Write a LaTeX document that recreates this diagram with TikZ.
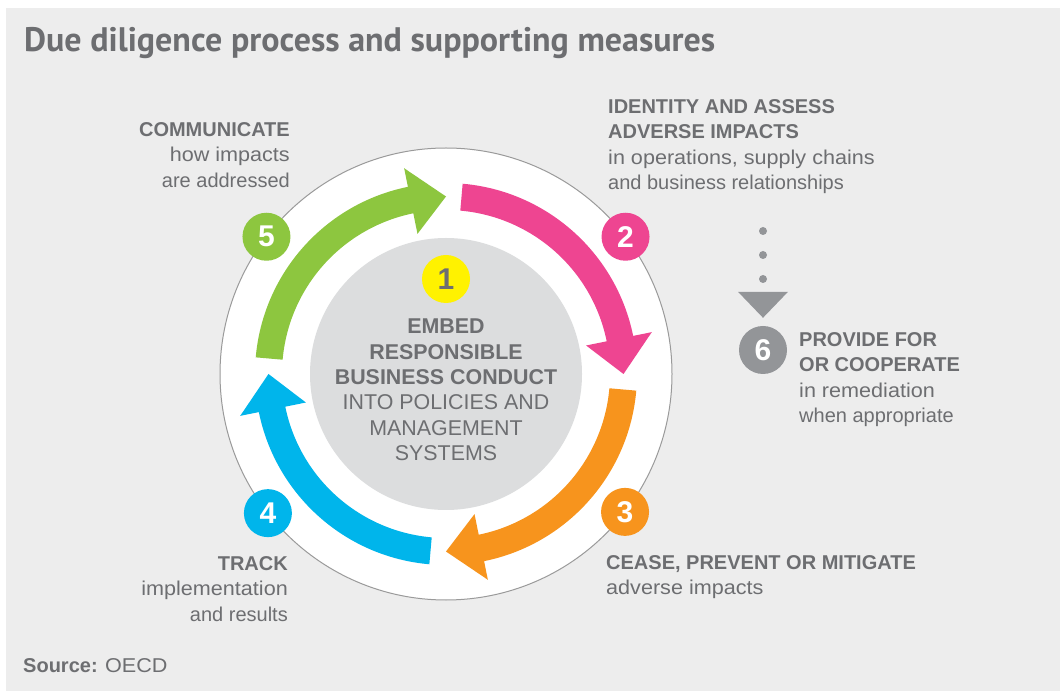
\documentclass[tikz,border=0pt]{standalone}
\usepackage{fontspec}
\setmainfont{Liberation Sans}
\newfontfamily\titlefont{PT Sans}
\newfontfamily\descfont{Liberation Sans}[FakeStretch=1.08]
\usetikzlibrary{positioning}

\definecolor{txtgray}{HTML}{6D6E71}
\definecolor{panelgray}{HTML}{EDEDED}
\definecolor{diskgray}{HTML}{DCDDDE}
\definecolor{ringline}{HTML}{9A9A9A}
\definecolor{stepmagenta}{HTML}{EE4591}
\definecolor{steporange}{HTML}{F7941D}
\definecolor{stepblue}{HTML}{00B5EB}
\definecolor{stepgreen}{HTML}{8DC63F}
\definecolor{stepyellow}{HTML}{FFF200}
\definecolor{stepgray}{HTML}{939598}

\begin{document}
\begin{tikzpicture}[x=1pt,y=1pt,
  badge/.style={circle,fill=#1,minimum size=48pt,inner sep=0,text=white,
    font=\fontsize{30}{30}\selectfont\bfseries},
  lbl/.style={inner sep=0,text=txtgray,font=\fontsize{20}{25.5}\selectfont},
  dotline/.style={stepgray,line width=8pt,line cap=round,dash pattern=on 0pt off 24pt}]
\useasboundingbox (0,0) rectangle (1060,691);
\fill[panelgray] (6,0) rectangle (1060,683);

\node[lbl,anchor=base west,font=\titlefont\fontsize{34}{34}\selectfont\bfseries] (title) at (24,639)
  {Due diligence process and supporting measures};

\begin{scope}[shift={(446,317)}]
  \filldraw[fill=white,draw=ringline,line width=1pt] (0,0) circle[radius=226];
  \fill[diskgray] (0,0) circle[radius=136];
  % the four cycle arrows
  \foreach \t/\c in {85/stepmagenta,-5/steporange,-95/stepblue,175/stepgreen}{
    \pgfmathsetmacro\p{\t-85}
    \pgfmathsetmacro\b{\t-73.5}
    \fill[\c] (\t:191) arc[start angle=\t,end angle=\b,radius=191]
      -- (\b:210) -- (\p:177.5) -- (\b:143) -- (\b:164)
      arc[start angle=\b,end angle=\t,radius=164] -- cycle;
  }
  \node[badge=stepyellow,text=txtgray] (n1) at (0,95) {1};
  \node[badge=stepmagenta] (n2) at (37.4:226) {2};
  \node[badge=steporange] (n3) at (-37.6:226) {3};
  \node[badge=stepblue] (n4) at (-142:226) {4};
  \node[badge=stepgreen] (n5) at (142.6:226) {5};
  \node[lbl,align=center,font=\fontsize{21.4}{25.4}\selectfont] (embed) at (0,-16)
    {\textbf{EMBED}\\\textbf{RESPONSIBLE}\\\textbf{BUSINESS CONDUCT}\\INTO POLICIES AND\\MANAGEMENT\\SYSTEMS};
\end{scope}

\node[lbl,align=left,anchor=north west] (identify) at (608,592)
  {\textbf{IDENTITY AND ASSESS}\\\textbf{ADVERSE IMPACTS}\\\descfont in operations, supply chains\\and business relationships};
\node[lbl,align=left,anchor=north west] (cease) at (606,136)
  {\textbf{CEASE, PREVENT OR MITIGATE}\\\descfont adverse impacts};
\node[lbl,align=right,anchor=north east] (track) at (288,135)
  {\textbf{TRACK}\\\descfont implementation\\and results};
\node[lbl,align=right,anchor=north east] (communicate) at (290,569)
  {\textbf{COMMUNICATE}\\\descfont how impacts\\are addressed};

% remediation step
\node[badge=stepgray] (n6) at (763,341) {6};
\coordinate (dtop) at (763,460);
\draw[dotline] (dtop) -- ++(0,-48);
\fill[stepgray] ([yshift=8pt]n6.north) -- ++(-25,26) -- ++(50,0) -- cycle;
\node[lbl,align=left,anchor=north west] (provide) at (799,359)
  {\textbf{PROVIDE FOR}\\\textbf{OR COOPERATE}\\\descfont in remediation\\when appropriate};

\node[lbl,anchor=base west] (source) at (23,19) {\textbf{Source:} \descfont OECD};
\end{tikzpicture}
\end{document}
